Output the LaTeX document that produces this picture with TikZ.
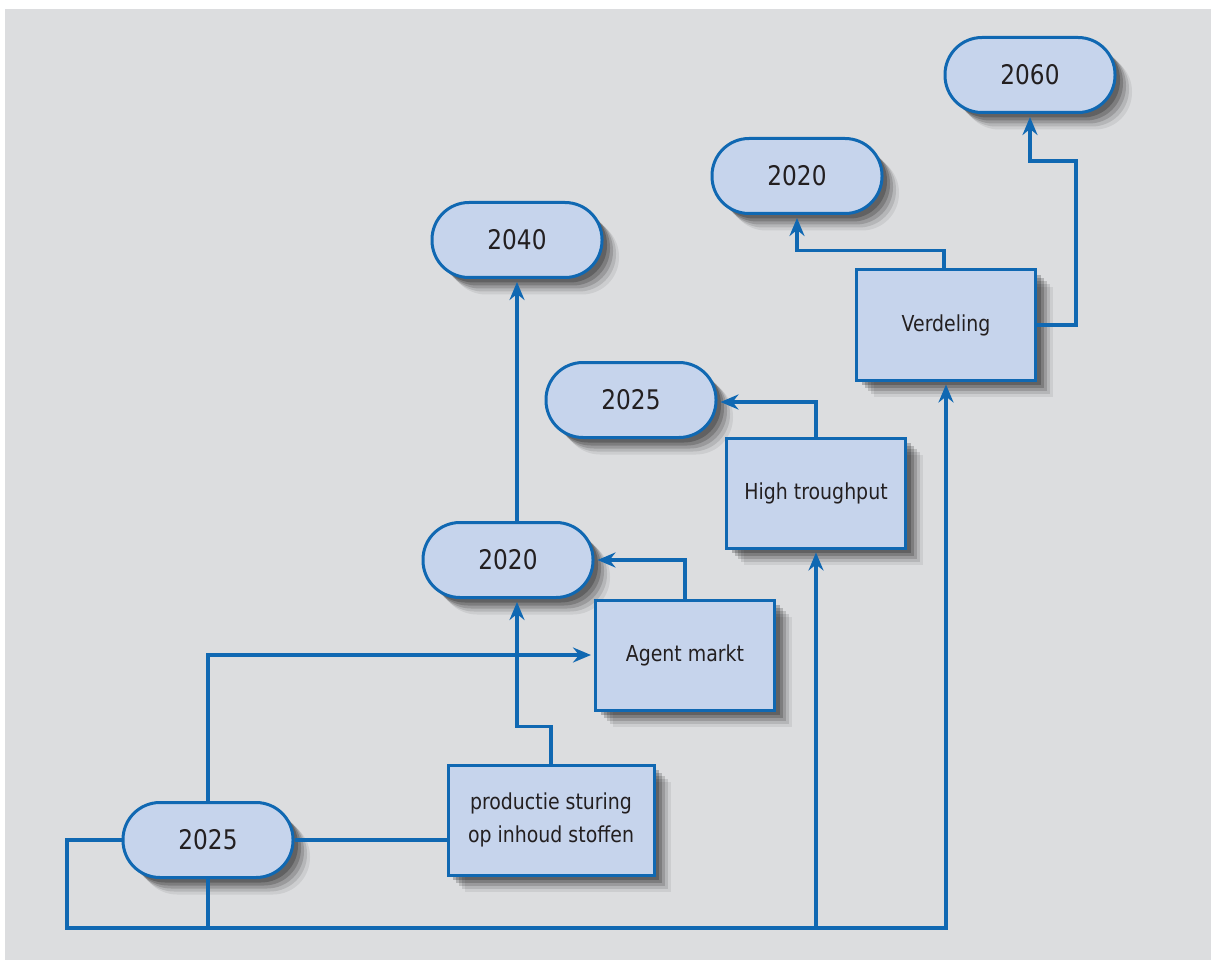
\documentclass[tikz,border=0pt]{standalone}
\usepackage{fontspec}
\setmainfont{DejaVu Sans}[FakeStretch=0.86]
\usepackage{xcolor}
\usetikzlibrary{positioning, arrows.meta, shadows}

\definecolor{lijn}{HTML}{1068B2}
\definecolor{vulling}{HTML}{C6D4EC}
\definecolor{achter}{HTML}{DCDDDF}
\definecolor{tekst}{HTML}{231F20}

\tikzset{
  schaduw/.style={
    general shadow={fill=black, opacity=0.07, shadow xshift=17pt, shadow yshift=-17pt},
    general shadow={fill=black, opacity=0.11, shadow xshift=14pt, shadow yshift=-14pt},
    general shadow={fill=black, opacity=0.15, shadow xshift=11pt, shadow yshift=-11pt},
    general shadow={fill=black, opacity=0.19, shadow xshift=8pt, shadow yshift=-8pt},
    general shadow={fill=black, opacity=0.22, shadow xshift=5pt, shadow yshift=-5pt}},
  jaar/.style={draw=lijn, fill=vulling, line width=3pt, rounded corners=37pt,
    minimum width=170pt, minimum height=75pt, text=tekst,
    font=\fontsize{27}{32}\selectfont, schaduw},
  taak/.style={draw=lijn, fill=vulling, line width=3pt,
    minimum width=179pt, minimum height=110pt, text=tekst, align=center,
    font=\fontsize{22}{33}\selectfont, schaduw},
  lijntje/.style={draw=lijn, line width=3.4pt},
  pijl/.style={lijntje, ->, shorten >=3pt},
}

\begin{document}
\begin{tikzpicture}[x=1pt, y=-1pt, >={Stealth[length=18pt,width=15pt,inset=6pt]}]
    \useasboundingbox (0,0) rectangle (1211,960);
    \fill[achter] (5,9) rectangle (1211,960);

    % jaartallen
    \node[jaar] (j2060) at (1030,75) {2060};
    \node[jaar] (j2020t) at (797,176) {2020};
    \node[jaar] (j2040) at (517,240) {2040};
    \node[jaar] (j2025m) at (631,400) {2025};
    \node[jaar] (j2020m) at (508,560) {2020};
    \node[jaar] (j2025b) at (208,840) {2025};

    % taken
    \node[taak] (verd) at (946,325) {Verdeling};
    \node[taak] (high) at (816,493) {High troughput};
    \node[taak] (agent) at (685,655) {Agent markt};
    \node[taak, minimum width=206pt] (prod) at (551,820) {productie sturing\\op inhoud stoffen};

    \coordinate (bus) at (67,928);

    \draw[pijl] (j2025b.west) -| (bus) -| (verd.south);
    \draw[lijntje] (j2025b.south) -- (j2025b.south |- bus);
    \draw[pijl] (high.south |- bus) -- (high.south);
    \draw[pijl] (j2025b.north) |- (agent.west);
    \draw[lijntje] (j2025b.east) -- (j2025b.east -| prod.west);
    \draw[pijl] (prod.north) -- ++(0,-37) -| ([xshift=9pt]j2020m.south);
    \draw[pijl] ([xshift=9pt]j2020m.north) -- (j2040.south);
    \draw[pijl] (agent.north) |- (j2020m.east);
    \draw[pijl] (high.north) |- ([yshift=-2pt]j2025m.east);
    \draw[pijl] ([xshift=-2pt]verd.north) -- ++(0,-18) -| (j2020t.south);
    \draw[pijl] (verd.east) -| ++(39,-164) -| (j2060.south);
\end{tikzpicture}
\end{document}
